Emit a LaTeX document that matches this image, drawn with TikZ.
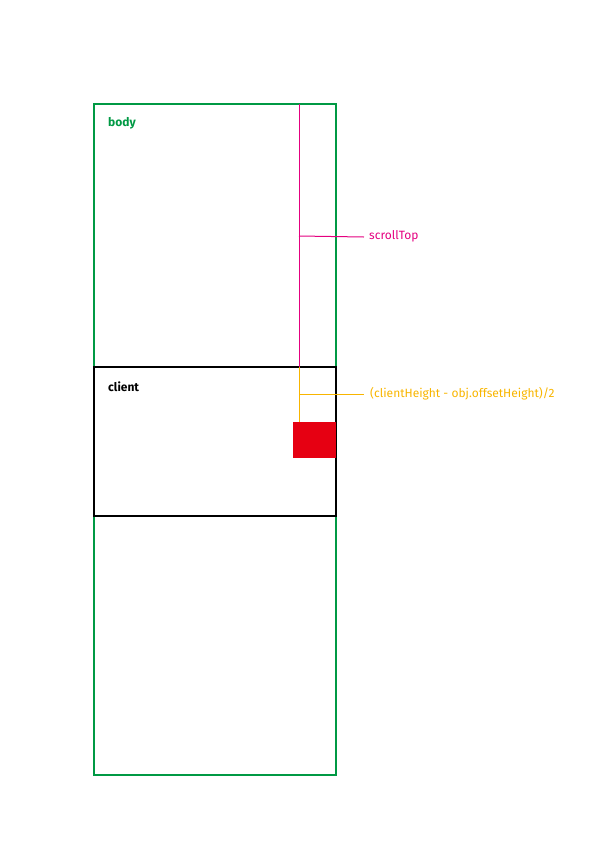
\documentclass[tikz,border=0pt]{standalone}
\usepackage{fontspec}
\setmainfont{Fira Sans}
\definecolor{bodygreen}{RGB}{0,153,68}
\definecolor{lpink}{RGB}{228,0,127}
\definecolor{lorange}{RGB}{248,181,0}
\definecolor{boxred}{RGB}{230,0,18}
\begin{document}
\begin{tikzpicture}[x=1pt,y=-1pt,
  frame/.style={line width=2pt},
  thin/.style={line width=1pt},
  lbl/.style={anchor=west,inner sep=0pt,font=\fontsize{12}{14}\selectfont}]
\useasboundingbox (0,0) rectangle (613,860);
\draw[frame,bodygreen] (94,104) rectangle (336,775);
\node[lbl,bodygreen,font=\fontsize{12}{14}\selectfont\bfseries] (bodyl) at (108,123) {body};
\draw[frame,black] (94,367) rectangle (336,516);
\node[lbl,black,font=\fontsize{12}{14}\selectfont\bfseries] (clientl) at (108,387) {client};
\fill[boxred] (292.5,422) rectangle (336,457.5);
\coordinate (st0) at (299,104);
\coordinate (st1) at (299,367);
\coordinate (sth) at (299,236);
\coordinate (ste) at (364,237);
\draw[thin,lpink] (st0) -- (st1);
\draw[thin,lpink] (sth) -- (ste);
\node[lbl,lpink] (stl) at (369,236) {scrollTop};
\coordinate (o1) at (299,422);
\coordinate (oh) at (299,394);
\coordinate (oe) at (364,394);
\draw[thin,lorange] (st1) -- (o1);
\draw[thin,lorange] (oh) -- (oe);
\node[lbl,lorange] (ol) at (370,394) {(clientHeight - obj.offsetHeight)/2};
\end{tikzpicture}
\end{document}
